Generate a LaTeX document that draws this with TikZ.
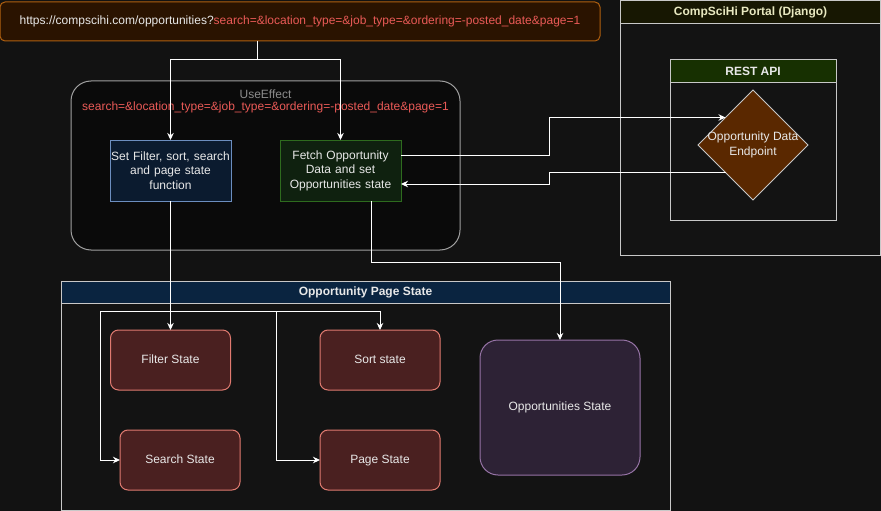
\documentclass[tikz,border=0pt]{standalone}
\usepackage{fontspec}
\setmainfont{Liberation Sans}
\usetikzlibrary{arrows.meta,shapes.geometric}
\definecolor{bg}{HTML}{121212}
\definecolor{cont}{HTML}{131313}
\definecolor{txt}{HTML}{E8E8E8}
\definecolor{red}{HTML}{EA5A57}
\definecolor{urlfill}{HTML}{2A1300}
\definecolor{urldraw}{HTML}{B06010}
\definecolor{grayline}{HTML}{C8C8C8}
\definecolor{djhead}{HTML}{171702}
\definecolor{djtext}{HTML}{E8E8C0}
\definecolor{resthead}{HTML}{173001}
\definecolor{epfill}{HTML}{5A2800}
\definecolor{uefill}{HTML}{0A0A0A}
\definecolor{uedraw}{HTML}{A0A0A0}
\definecolor{setfill}{HTML}{0B1B2F}
\definecolor{setdraw}{HTML}{6C8EBF}
\definecolor{fetfill}{HTML}{0F210F}
\definecolor{fetdraw}{HTML}{2E6B1E}
\definecolor{opshead}{HTML}{0A2440}
\definecolor{stfill}{HTML}{4A2020}
\definecolor{stdraw}{HTML}{E07A70}
\definecolor{oppfill}{HTML}{2D2235}
\definecolor{oppdraw}{HTML}{9673A6}
\begin{document}
\begin{tikzpicture}[x=1pt,y=-1pt,
  font=\fontsize{12}{14}\selectfont,
  every node/.style={inner sep=0pt, outer sep=0pt, text=txt},
  arr/.style={draw=white, line width=1pt, -{Stealth[length=7pt,width=6.5pt,inset=2.2pt]}},
  box/.style={rectangle, line width=1pt, align=center},
  contbox/.style={rectangle, draw=grayline, fill=cont, line width=1pt},
  head/.style={rectangle, draw=grayline, line width=1pt, font=\fontsize{12}{14}\selectfont\bfseries},
  statebox/.style={rectangle, rounded corners=8pt, draw=stdraw, fill=stfill, line width=1pt, minimum width=120pt, minimum height=60pt, text height=9pt, text depth=2.5pt},
]
\fill[bg] (0,0) rectangle (881,511);
\useasboundingbox (0,0) rectangle (881,511);

% URL
\node[box, rounded corners=5pt, draw=urldraw, fill=urlfill, minimum width=600pt, minimum height=39pt] (url) at (300,21.5)
  {https://compscihi.com/opportunities?\textcolor{red}{search=\&location\_type=\&job\_type=\&ordering=-posted\_date\&page=1}};

% Django portal
\node[contbox, minimum width=260pt, minimum height=255pt] (portal) at (750.5,128) {};
\node[head, fill=djhead, minimum width=260pt, minimum height=23pt, text=djtext] (portalh) at (750.5,12) {CompSciHi Portal (Django)};

% REST API
\node[contbox, minimum width=166pt, minimum height=160pt] (rest) at (753,140) {};
\node[head, fill=resthead, minimum width=166pt, minimum height=23pt] (resth) at (753,71.5) {REST API};

\node[diamond, draw=grayline, fill=epfill, line width=1pt, minimum width=110pt, minimum height=110pt, aspect=1] (ep) at (753,145) {};
\node[align=center, font=\fontsize{12}{14.5}\selectfont] (eptext) at (ep.center) {Opportunity Data\\Endpoint};

% UseEffect
\node[box, rounded corners=20pt, draw=uedraw, fill=uefill, minimum width=389pt, minimum height=169pt] (ue) at (265.5,165.5) {};
\node[text=uedraw!120] (uetitle) at (265.5,94) {UseEffect};
\node[text=red] (ueparams) at (265.5,107) {search=\&location\_type=\&job\_type=\&ordering=-posted\_date\&page=1};

\node[box, draw=setdraw, fill=setfill, minimum width=121pt, minimum height=61pt, text width=121pt, font=\fontsize{12}{14.5}\selectfont] (setf) at (170.5,170.5) {Set Filter, sort, search\\and page state\\function};
\node[box, draw=fetdraw, fill=fetfill, minimum width=121pt, minimum height=61pt, text width=121pt, font=\fontsize{12}{14.5}\selectfont] (fetch) at (340.5,170.5) {Fetch Opportunity\\Data and set\\Opportunities state};

% Opportunity Page State
\node[contbox, minimum width=609pt, minimum height=229pt] (ops) at (365.5,395.5) {};
\node[head, fill=opshead, minimum width=609pt, minimum height=22pt] (opsh) at (365.5,292) {Opportunity Page State};

\node[statebox] (filt) at (170.5,360) {Filter State};
\node[statebox] (sort) at (380,360) {Sort state};
\node[statebox] (search) at (180,460) {Search State};
\node[statebox] (page) at (380,460) {Page State};
\node[rectangle, rounded corners=18pt, draw=oppdraw, fill=oppfill, line width=1pt, minimum width=160pt, minimum height=135pt] (opp) at (560,407.5) {Opportunities State};

% connectors
\draw[arr] ([xshift=-43pt]url.south) -- ++(0,19) -| (setf.north);
\draw[arr] ([xshift=-43pt]url.south) -- ++(0,19) -| (fetch.north);
\draw[arr] ([yshift=15.5pt]fetch.east) -- ++(148,0) |- (ep.north west);
\draw[arr] (ep.south west) -- ++(-176.5,0) |- ([yshift=-13.5pt]fetch.east);
\draw[arr] ([xshift=30.5pt]fetch.south) -- ++(0,61) -| (opp.north);
\draw[arr] (setf.south) -- (filt.north);
\draw[arr] (setf.south) -- ++(0,110) -| (sort.north);
\draw[arr] (setf.south) -- ++(0,110) -- ++(-70.5,0) |- (search.west);
\draw[arr] (setf.south) -- ++(0,110) -- ++(105.5,0) |- (page.west);
\end{tikzpicture}
\end{document}
